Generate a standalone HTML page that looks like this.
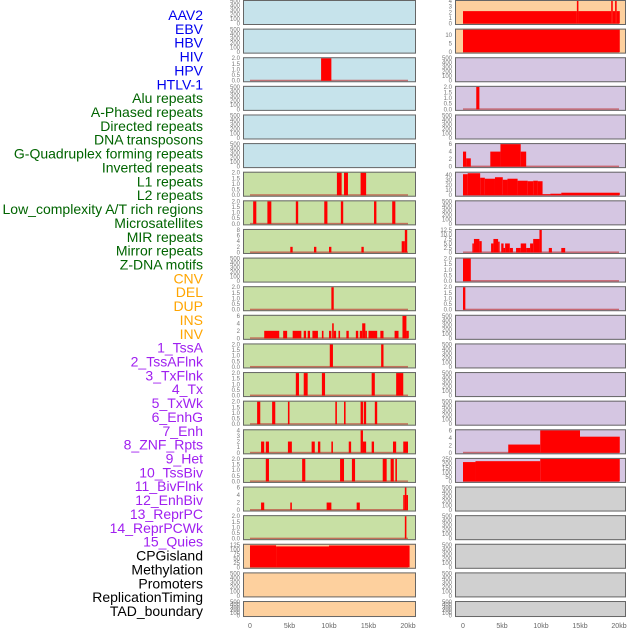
<!DOCTYPE html>
<html><head><meta charset="utf-8"><style>
body{margin:0;background:#fff;width:630px;height:630px;overflow:hidden;font-family:"Liberation Sans",sans-serif}
</style></head><body>
<svg id="chart" width="630" height="630" xmlns="http://www.w3.org/2000/svg"></svg>
<script>
const labels=["AAV2","EBV","HBV","HIV","HPV","HTLV-1","Alu repeats","A-Phased repeats","Directed repeats","DNA transposons","G-Quadruplex forming repeats","Inverted repeats","L1 repeats","L2 repeats","Low_complexity A/T rich regions","Microsatellites","MIR repeats","Mirror repeats","Z-DNA motifs","CNV","DEL","DUP","INS","INV","1_TssA","2_TssAFlnk","3_TxFlnk","4_Tx","5_TxWk","6_EnhG","7_Enh","8_ZNF_Rpts","9_Het","10_TssBiv","11_BivFlnk","12_EnhBiv","13_ReprPC","14_ReprPCWk","15_Quies","CPGisland","Methylation","Promoters","ReplicationTiming","TAD_boundary"];
const labelColors=[...Array(6).fill("#0000ee"),...Array(13).fill("#006400"),...Array(5).fill("#ffa500"),...Array(15).fill("#a020f0"),...Array(5).fill("#000")];
const bgColors=[...Array(6).fill("#c6e3eb"),...Array(13).fill("#c8e0a4"),...Array(5).fill("#fdd09e"),...Array(15).fill("#d5c6e2"),...Array(5).fill("#d0d0d0")];
const xTicks=[0,5,10,15,20];
const xTickLabels=["0","5kb","10kb","15kb","20kb"];
const emptyTicks=[0,100,200,300,400,500];
// per panel: ymax, ticks, bars [startKb,endKb,value]
const ymaxs=[500,500,2,500,500,500,2,2,8,500,2,6,2,2,2,4,2,6,2,125,500,500,
 4,13,500,2,500,6,45,500,12.5,2,2,500,500,500,500,6,250,500,500,500,500,500];
const tickSets={2:[0,0.5,1,1.5,2],8:[0,2,4,6,8],6:[0,2,4,6],4:[0,1,2,3,4],125:[0,25,50,75,100,125],13:[0,5,10],45:[0,10,20,30,40],12.5:[0,2.5,5,7.5,10,12.5],250:[0,50,100,150,200,250],500:emptyTicks};
const tickLabelSets={2:["0.0","0.5","1.0","1.5","2.0"],12.5:["0","2.5","5.0","7.5","10.0","12.5"]};
const bars=[
[],[],[[9,10.3,2]],[],[],[],
[[11.0,11.6,2],[11.9,12.4,2],[14.0,14.7,2]],
[[0.4,0.8,2],[2.2,2.7,2],[5.8,6.1,2],[9.4,9.8,2],[11.5,11.8,2],[15.7,16.0,2],[18.0,18.4,2]],
[[5.1,5.4,2],[8.1,8.4,2],[10.0,10.3,2],[14.1,14.4,2],[19.2,19.6,4],[19.6,19.9,8]],
[],
[[10.3,10.6,2]],
[[1.8,3.7,2],[4.2,4.7,2],[5.4,6.5,2],[6.8,7.1,2],[7.3,7.6,2],[7.9,8.6,2],[9.1,9.3,2],[10.0,10.3,2],[10.4,10.6,4],[10.6,10.9,2],[11.2,11.4,2],[12.2,12.5,2],[13.4,13.7,2],[13.9,14.2,2],[14.2,14.6,4],[14.6,14.8,2],[15.0,16.1,2],[16.5,16.9,2],[18.3,18.8,2],[19.3,19.8,6],[19.8,20.1,2]],
[[10.1,10.5,2],[16.6,16.9,2]],
[[5.8,6.2,2],[6.8,7.3,2],[9.1,9.5,2],[15.4,15.8,2],[18.5,19.4,2]],
[[0.9,1.3,2],[2.8,3.2,2],[4.8,5.0,2],[10.8,11.0,2],[11.9,12.1,2],[14.0,14.3,2],[14.4,14.7,2],[15.8,16.1,2]],
[[1.4,1.8,2],[2.0,2.4,2],[4.8,5.3,2],[7.8,8.2,2],[8.6,8.9,2],[10.3,10.5,2],[12.5,12.8,2],[14.0,14.3,4],[14.3,14.7,2],[15.4,15.7,2],[18.1,18.5,2],[19.4,20,2]],
[[2.0,2.4,2],[6.6,7.0,2],[11.4,11.9,2],[12.9,13.3,2],[16.8,17.3,2],[17.8,18.2,2],[18.4,18.6,2]],
[[1.4,1.8,2],[5.1,5.3,2],[9.7,10.3,2],[13.5,13.9,2],[19.4,19.6,4],[19.6,19.8,6],[19.8,20,4]],
[[19.6,19.8,2]],
[[0,3.3,122],[3.3,10.0,116],[10.0,20.2,121]],
[],[],
[[0,14.6,2.2],[14.6,14.8,4],[14.8,19.0,2.2],[19.0,19.2,4],[19.2,19.5,2.2],[19.5,19.7,4],[19.7,20.1,2.2]],
[[0,20.1,13]],
[],
[[1.7,2.1,2]],
[],
[[0,0.4,4],[0.4,1.0,2.2],[3.5,4.8,4],[4.8,7.4,6],[7.4,8.1,4]],
[[0,0.6,42],[0.6,2.2,44],[2.2,2.8,35],[2.8,4.1,33],[4.1,5.1,36],[5.1,5.7,31],[5.7,7.0,33],[7.0,8.3,29],[8.3,9.0,28],[9.0,9.6,29],[9.6,10.2,28],[10.2,11.2,2],[11.2,12.6,3],[12.6,20.1,5]],
[],
[[1.2,1.4,5],[1.4,2.1,7.5],[2.1,2.4,6.3],[3.6,3.9,5],[3.9,4.5,7.5],[4.5,4.7,6],[4.9,5.2,5],[5.2,5.4,2.5],[5.4,6.0,5],[6.0,6.4,2.5],[6.8,7.4,2.5],[7.4,8.1,5],[8.1,8.6,2.5],[8.6,9.0,5],[9.0,9.8,7.5],[9.8,10.1,12.5],[11.0,11.4,2.5],[12.6,13.1,2.5]],
[[0,1.0,2]],
[[0,0.3,2]],
[],[],[],[],
[[5.8,9.9,2.2],[9.9,15.0,6],[15.0,20.1,4.3]],
[[0,1.6,215],[1.6,9.9,225],[9.9,20.1,250]],
[],[],[],[],[]
];
const NS="http://www.w3.org/2000/svg";
const svg=document.getElementById('chart');
function mk(tag,attrs,parent){const e=document.createElementNS(NS,tag);for(const k in attrs)e.setAttribute(k,attrs[k]);(parent||svg).appendChild(e);return e;}
const colX=[{x0:243,x1:416,z:250,k:7.9},{x0:455,x1:626,z:463,k:7.8}];
function rowTop(r){return r*28.62;}
function rowH(r){return r===21?16:25;}
// labels
labels.forEach((l,i)=>{
  const t=mk('text',{x:203,y:15+i*13.86+5,'text-anchor':'end','font-size':'14',fill:labelColors[i]});
  t.textContent=l;
  
  
});
for(let p=0;p<44;p++){
  const c=p<22?0:1, r=p%22, C=colX[c];
  const top=rowTop(r), h=rowH(r);
  const g=mk('g',{});
  
  
  mk('rect',{x:C.x0,y:top,width:C.x1-C.x0,height:h,fill:bgColors[p]},g);
  const ymax=ymaxs[p];
  const yv=v=>top+h-1.5-(v/ymax)*(h-2.5);
  const xv=kb=>C.z+kb*C.k;
  if(bars[p].length){
    const bl=mk('rect',{x:xv(0),y:yv(0)-1,width:xv(20)-xv(0),height:1.5,fill:'rgba(190,40,40,0.6)'},g);
    
    
  }
  bars[p].forEach(b=>{
    const x=xv(b[0]),w=Math.max(1.2,xv(b[1])-x),y=yv(b[2]);
    const br=mk('rect',{x:x,y:y,width:w,height:yv(0)-y,fill:'#ff0000'},g);
    
    
  });
  mk('rect',{x:C.x0+0.5,y:top+0.5,width:C.x1-C.x0-1,height:h-1,fill:'none',stroke:'#666','stroke-width':1},g);
  const ticks=tickSets[ymax], tl=tickLabelSets[ymax];
  ticks.forEach((tv,i)=>{
    const t=mk('text',{x:C.x0-3,y:yv(tv)+2,'text-anchor':'end','font-size':'6',fill:'#777'},g);
    t.textContent=tl?tl[i]:String(tv);
    
    
  });
}
colX.forEach((C,ci)=>{
  xTicks.forEach((kb,i)=>{
    const t=mk('text',{x:C.z+kb*C.k,y:628,'text-anchor':'middle','font-size':'7',fill:'#666'});
    t.textContent=xTickLabels[i];
    
    
  });
});
</script>
</body></html>
